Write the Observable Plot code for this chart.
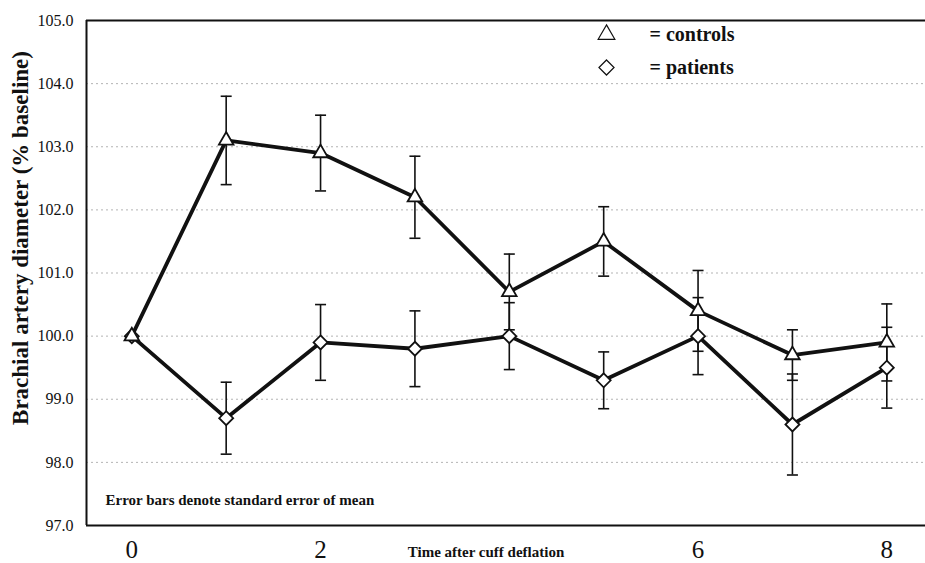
<!DOCTYPE html>
<html>
<head>
<meta charset="utf-8">
<script src="https://cdn.jsdelivr.net/npm/d3@7"></script>
<script src="https://cdn.jsdelivr.net/npm/@observablehq/plot@0.6"></script>
<style>
  html, body { margin: 0; padding: 0; background: #fff; }
  #chart { width: 925px; height: 563px; }
</style>
</head>
<body>
<div id="chart"></div>
<script>
// ---- Data ----
const times = [0, 1, 2, 3, 4, 5, 6, 7, 8];
const controlsMean = [100.0, 103.1, 102.9, 102.2, 100.7, 101.5, 100.4, 99.7, 99.9];
const controlsSE   = [0,     0.70,  0.60,  0.65,  0.60,  0.55,  0.64,  0.40, 0.61];
const patientsMean = [100.0, 98.7,  99.9,  99.8,  100.0, 99.3,  100.0, 98.6, 99.5];
const patientsSE   = [0,     0.57,  0.60,  0.60,  0.53,  0.45,  0.61,  0.80, 0.64];

const xTicks = [0, 2, 6, 8];
const yTicks = [97, 98, 99, 100, 101, 102, 103, 104, 105];
const gridTicks = [98, 99, 100, 101, 102, 103, 104];
const yDomain = [97, 105];
const xDomain = [-0.48, 8.41];

const xTitle = "Time after cuff deflation";
const yTitle = "Brachial artery diameter (% baseline)";
const note = "Error bars denote standard error of mean";
const legendLabels = ["= controls", "= patients"];

// ---- Build tables ----
const controls = times.map((t, i) => ({t, mean: controlsMean[i], se: controlsSE[i]}));
const patients = times.map((t, i) => ({t, mean: patientsMean[i], se: patientsSE[i]}));
const withErr = [...controls, ...patients].filter(d => d.se > 0);

// horizontal-line symbol for error-bar caps
const capSymbol = {
  draw(context, size) {
    const r = Math.sqrt(size / Math.PI);
    context.moveTo(-r, 0);
    context.lineTo(r, 0);
  }
};

const font = "'Liberation Serif', 'Times New Roman', serif";

const chart = Plot.plot({
  width: 925,
  height: 563,
  marginLeft: 86,
  marginRight: 0,
  marginTop: 20,
  marginBottom: 38,
  style: {fontFamily: font, background: "#fff", color: "#111"},
  x: {domain: xDomain},
  y: {domain: yDomain},
  marks: [
    Plot.gridY({ticks: gridTicks, stroke: "#777", strokeOpacity: 0.55, strokeDasharray: "2,3", strokeWidth: 1}),
    Plot.axisY({ticks: yTicks, tickFormat: d => d.toFixed(1), tickSize: 0, tickPadding: 13, fontSize: 16, label: null, fill: "#111"}),
    Plot.axisX({ticks: xTicks, tickSize: 0, tickPadding: 15, fontSize: 25, label: null, fill: "#111"}),
    // frame: left, top, bottom
    Plot.ruleY(yDomain, {stroke: "#111", strokeWidth: 2}),
    Plot.ruleX([xDomain[0]], {stroke: "#111", strokeWidth: 2}),
    // error bars
    Plot.ruleX(withErr, {x: "t", y1: d => d.mean - d.se, y2: d => d.mean + d.se, stroke: "#111", strokeWidth: 1.6}),
    Plot.dot(withErr, {x: "t", y: d => d.mean + d.se, symbol: capSymbol, r: 5.5, stroke: "#111", strokeWidth: 1.6, fill: "none"}),
    Plot.dot(withErr, {x: "t", y: d => d.mean - d.se, symbol: capSymbol, r: 5.5, stroke: "#111", strokeWidth: 1.6, fill: "none"}),
    // lines
    Plot.line(patients, {x: "t", y: "mean", stroke: "#111", strokeWidth: 3.8}),
    Plot.line(controls, {x: "t", y: "mean", stroke: "#111", strokeWidth: 3.8}),
    // markers
    Plot.dot(patients, {x: "t", y: "mean", symbol: "diamond2", r: 6.3, fill: "white", stroke: "#111", strokeWidth: 1.8}),
    Plot.dot(controls, {x: "t", y: "mean", symbol: "triangle", r: 5.4, fill: "white", stroke: "#111", strokeWidth: 1.8}),
    // legend
    Plot.dot([legendLabels[0]], {frameAnchor: "top-left", dx: 520, dy: 14, symbol: "triangle", r: 6.2, fill: "white", stroke: "#111", strokeWidth: 1.2}),
    Plot.dot([legendLabels[1]], {frameAnchor: "top-left", dx: 520, dy: 47, symbol: "diamond2", r: 6.8, fill: "white", stroke: "#111", strokeWidth: 1.2}),
    Plot.text([legendLabels[0]], {text: d => d, frameAnchor: "top-left", dx: 563, dy: 14, textAnchor: "start", lineAnchor: "middle", fontSize: 20, fontWeight: "bold", fill: "#111"}),
    Plot.text([legendLabels[1]], {text: d => d, frameAnchor: "top-left", dx: 563, dy: 47, textAnchor: "start", lineAnchor: "middle", fontSize: 20, fontWeight: "bold", fill: "#111"}),
    // footnote
    Plot.text([note], {text: d => d, frameAnchor: "bottom-left", dx: 19, dy: -25, textAnchor: "start", lineAnchor: "middle", fontSize: 15, fontWeight: "bold", fill: "#111"}),
    // axis titles
    Plot.text([xTitle], {text: d => d, frameAnchor: "bottom", dx: -20, dy: 27, textAnchor: "middle", lineAnchor: "middle", fontSize: 15, fontWeight: "bold", fill: "#111"}),
    Plot.text([yTitle], {text: d => d, frameAnchor: "left", rotate: -90, dx: -66, dy: -35, textAnchor: "middle", lineAnchor: "middle", fontSize: 23, fontWeight: "bold", fill: "#111"})
  ]
});

document.getElementById("chart").appendChild(chart);
</script>
</body>
</html>
